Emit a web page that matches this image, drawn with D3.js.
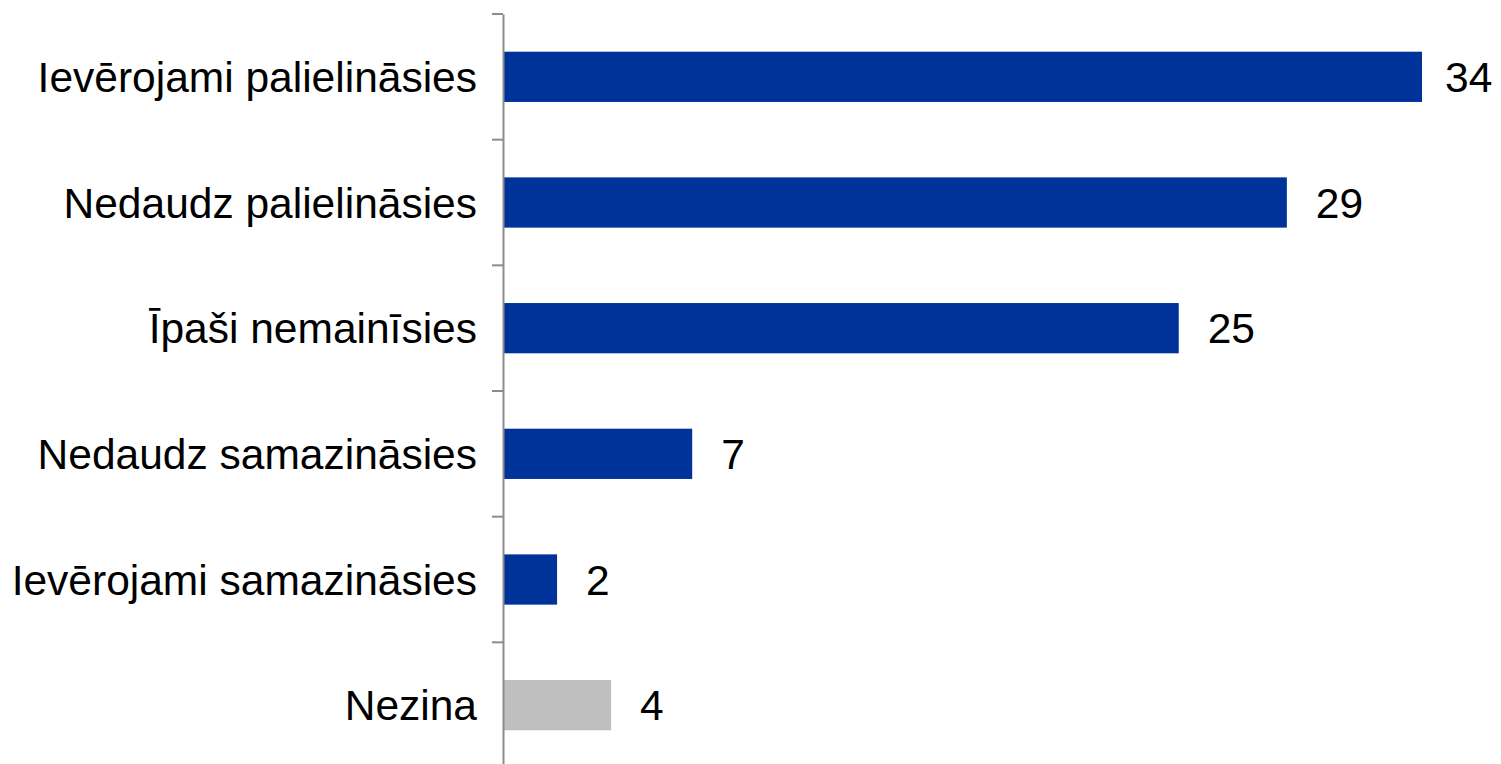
<!DOCTYPE html>
<html>
<head>
<meta charset="utf-8">
<script src="https://cdn.jsdelivr.net/npm/d3@7"></script>
<style>
    html, body { margin: 0; padding: 0; background: #fff; }
    text { font-family: "Liberation Sans", Arial, sans-serif; fill: #000; }
</style>
</head>
<body>
<div id="chart"></div>
<script>
// data
var categories = [
    "Ievērojami palielināsies",
    "Nedaudz palielināsies",
    "Īpaši nemainīsies",
    "Nedaudz samazināsies",
    "Ievērojami samazināsies",
    "Nezina"
];
var values = [34, 29, 25, 7, 2, 4];
var barColors = ["#003399", "#003399", "#003399", "#003399", "#003399", "#bfbfbf"];

var data = categories.map(function (c, i) {
    return { name: c, value: values[i], color: barColors[i] };
});

// Set the dimensions
var width = 1501,
    height = 764,
    axisX = 503,
    fontSize = 42.5;

var svg = d3.select("#chart").append("svg")
    .attr("width", width)
    .attr("height", height);

// scales
var x = d3.scaleLinear()
    .domain([0, 34])
    .range([axisX, 1422]);

var y = d3.scaleBand()
    .domain(categories)
    .range([14, 768])
    .paddingInner(0.6)
    .paddingOuter(0.3);

// bars
svg.selectAll("rect.bar")
    .data(data)
    .enter().append("rect")
    .attr("class", "bar")
    .attr("x", x(0) + 1)
    .attr("y", function (d) { return y(d.name); })
    .attr("width", function (d) { return x(d.value) - x(0) - 1; })
    .attr("height", y.bandwidth())
    .style("fill", function (d) { return d.color; });

// value labels (the longest one is pulled in so it fits)
svg.selectAll("text.value")
    .data(data)
    .enter().append("text")
    .attr("class", "value")
    .attr("x", function (d) { return Math.min(x(d.value) + 29, 1445); })
    .attr("y", function (d) { return y(d.name) + y.bandwidth() / 2; })
    .attr("dy", "0.36em")
    .style("font-size", fontSize + "px")
    .text(function (d) { return d.value; });

// category axis
var yAxis = d3.axisLeft(y)
    .tickSize(0)
    .tickSizeOuter(0)
    .tickPadding(26);

var gAxis = svg.append("g")
    .attr("transform", "translate(" + axisX + ",0)")
    .call(yAxis);

gAxis.select(".domain")
    .attr("stroke", "#8c8c8c")
    .attr("stroke-width", 2);

gAxis.selectAll(".tick text")
    .attr("dy", "0.36em")
    .style("font-size", fontSize + "px")
    .style("font-family", "'Liberation Sans', Arial, sans-serif")
    .attr("fill", "#000");

// tick marks sit between the categories
var step = y.step();
var boundaries = d3.range(categories.length + 1).map(function (i) {
    return y.range()[0] + i * step;
});

gAxis.selectAll("line.sep")
    .data(boundaries)
    .enter().append("line")
    .attr("class", "sep")
    .attr("x1", -11)
    .attr("x2", 0)
    .attr("y1", function (d) { return d; })
    .attr("y2", function (d) { return d; })
    .attr("stroke", "#8c8c8c")
    .attr("stroke-width", 2);
</script>
</body>
</html>
